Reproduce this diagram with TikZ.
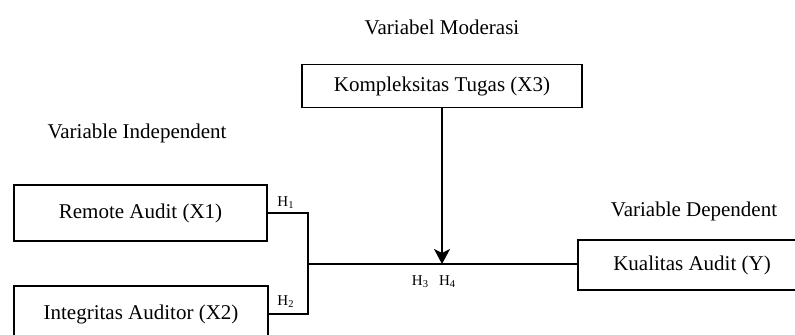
\documentclass[tikz,border=0pt]{standalone}
\usepackage{fontspec}
\setmainfont{Liberation Serif}
\usetikzlibrary{arrows.meta}
\begin{document}
\begin{tikzpicture}[x=0.5pt,y=-0.5pt,>={Stealth[length=7.5pt,width=8pt,inset=2pt]},line width=0.8pt, font=\fontsize{10.5}{12}\selectfont,
 box/.style={draw, line width=0.9pt, inner sep=0pt},
 hlab/.style={font=\fontsize{7.5}{9}\selectfont, inner sep=1pt}]
 \useasboundingbox (0,0) rectangle (795,334);
 \clip (0,0) rectangle (795,334);
 \node (tmod) at (442,27) {Variabel Moderasi};
 \node (tind) at (137,133) {Variable Independent};
 \node (tdep) at (694,211) {Variable Dependent};
 \node[box, minimum width=140pt, minimum height=21.5pt] (x3) at (442,86) {Kompleksitas Tugas (X3)};
 \node[box, minimum width=126.5pt, minimum height=28pt] (x1) at (140.5,213) {Remote Audit (X1)};
 \node[box, minimum width=127pt, minimum height=28pt] (x2) at (141,314) {Integritas Auditor (X2)};
 \node[box, minimum width=114pt, minimum height=25pt] (y) at (692,265) {Kualitas Audit (Y)};
 \coordinate (j) at (308,264);
 \draw (x1.east) -| (j);
 \draw (x2.east) -| (j);
 \draw (j) -- (j -| y.west);
 \draw[->] (x3.south) -- (x3.south |- j);
 \node[hlab] (h1) at (286,203) {H\textsubscript{1}};
 \node[hlab] (h2) at (286,302) {H\textsubscript{2}};
 \node[hlab] (h34) at (434,282) {H\textsubscript{3}\hspace{5pt}H\textsubscript{4}};
\end{tikzpicture}
\end{document}
